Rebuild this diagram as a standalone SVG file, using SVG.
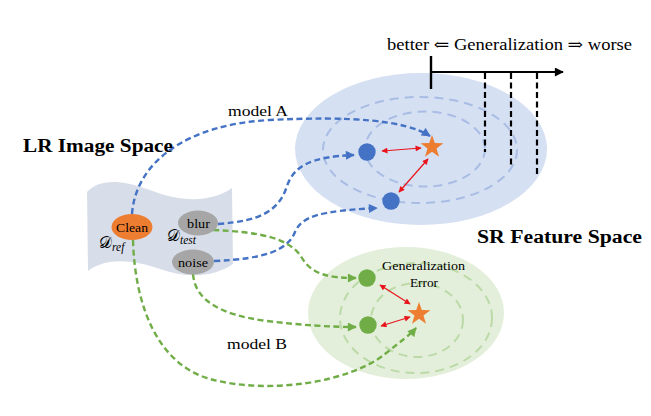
<svg xmlns="http://www.w3.org/2000/svg" xmlns:xlink="http://www.w3.org/1999/xlink" width="651" height="416" viewBox="0 0 651 416">
<style>
text{fill:#000;font-family:"Liberation Serif","DejaVu Serif",serif}
.b{font-weight:bold}
.blue{fill:none;stroke:#4472C4;stroke-width:2.4;stroke-dasharray:6 3.5}
.green{fill:none;stroke:#70AD47;stroke-width:2.4;stroke-dasharray:6 3.5}
.ringB{fill:none;stroke:#a9bde4;stroke-width:2;stroke-dasharray:9 6}
.ringG{fill:none;stroke:#bcdaa8;stroke-width:2;stroke-dasharray:9 6}
.red{fill:none;stroke:#e8141b;stroke-width:1.2}
.vd{fill:none;stroke:#000;stroke-width:2.2;stroke-dasharray:6 3.5}
</style>
<defs>
<marker id="aB" viewBox="0 0 10 10" refX="9" refY="5" markerUnits="userSpaceOnUse" markerWidth="10" markerHeight="9" orient="auto"><path d="M0,0 L10,5 L0,10 Z" fill="#4472C4"/></marker>
<marker id="aG" viewBox="0 0 10 10" refX="9" refY="5" markerUnits="userSpaceOnUse" markerWidth="10" markerHeight="9" orient="auto"><path d="M0,0 L10,5 L0,10 Z" fill="#70AD47"/></marker>
<marker id="aR" viewBox="0 0 10 10" refX="9" refY="5" markerUnits="userSpaceOnUse" markerWidth="7" markerHeight="6" orient="auto-start-reverse"><path d="M0,0 L10,5 L0,10 Z" fill="#e8141b"/></marker>
<marker id="aK" viewBox="0 0 10 10" refX="9" refY="5" markerUnits="userSpaceOnUse" markerWidth="11" markerHeight="9" orient="auto"><path d="M0,0 L10,5 L0,10 Z" fill="#000"/></marker>
<polygon id="star" points="0,-12 2.8,-3.9 11.4,-3.7 4.5,1.5 7,9.7 0,4.8 -7,9.7 -4.5,1.5 -11.4,-3.7 -2.8,-3.9" fill="#ED7D31"/>
</defs>

<g id="sr-space-blue">
<ellipse cx="421" cy="149" rx="126" ry="76" fill="#d6e0f3"/>
<ellipse cx="420" cy="150" rx="97" ry="53" class="ringB"/>
<ellipse cx="425" cy="149" rx="60" ry="37.5" class="ringB"/>
</g>
<g id="sr-space-green">
<ellipse cx="406" cy="313" rx="98" ry="66" fill="#e3efda"/>
<ellipse cx="416" cy="318" rx="76" ry="55" class="ringG"/>
<ellipse cx="417" cy="320" rx="46" ry="37" class="ringG"/>
</g>

<g id="axis">
<line x1="431" y1="56" x2="431" y2="89" stroke="#000" stroke-width="2.4"/>
<line x1="431" y1="72" x2="563" y2="72" stroke="#000" stroke-width="1.8" marker-end="url(#aK)"/>
<line x1="485" y1="73" x2="485" y2="152" class="vd"/>
<line x1="511" y1="73" x2="511" y2="165" class="vd"/>
<line x1="537" y1="73" x2="537" y2="177" class="vd"/>
<text x="387" y="50" font-size="16" textLength="245" lengthAdjust="spacingAndGlyphs">better ⇐ Generalization ⇒ worse</text>
</g>

<g id="lr-sheet">
<path d="M87,192 C98,180 118,178 150,190 C180,202 210,203 232,188 L233,264 C214,277 188,279 160,269 C130,259 106,258 88,271 Z" fill="#d8dee9"/>
</g>

<g id="connectors">
<path class="blue" d="M132,214 C136,160 190,124 270,120 C350,116 405,120 430,136" marker-end="url(#aB)"/>
<path class="blue" d="M218,224 C260,221 279,211 287,186 C294,166 310,157 354,155" marker-end="url(#aB)"/>
<path class="blue" d="M214,261 C265,259 288,250 295,232 C302,216 320,211 377,208" marker-end="url(#aB)"/>
<path class="green" d="M213,230 C260,232 290,238 302,258 C312,275 330,278 356,278" marker-end="url(#aG)"/>
<path class="green" d="M193,274 C195,300 220,315 267,321 C300,325 330,327 356,327" marker-end="url(#aG)"/>
<path class="green" d="M133,240 C135,310 160,365 210,379 C270,395 350,382 385,354 C400,342 411,334 416,328" marker-end="url(#aG)"/>
<line class="red" x1="382" y1="151" x2="421" y2="148" marker-start="url(#aR)" marker-end="url(#aR)"/>
<line class="red" x1="399" y1="192" x2="428" y2="159" marker-start="url(#aR)" marker-end="url(#aR)"/>
<line class="red" x1="380" y1="285" x2="410" y2="304" marker-start="url(#aR)" marker-end="url(#aR)"/>
<line class="red" x1="381" y1="326" x2="410" y2="317" marker-start="url(#aR)" marker-end="url(#aR)"/>
</g>

<g id="blue-dot-1"><circle cx="367" cy="152" r="8.7" fill="#4472C4"/></g>
<g id="blue-dot-2"><circle cx="391" cy="201" r="8.7" fill="#4472C4"/></g>
<g id="blue-star"><use xlink:href="#star" x="432" y="147"/></g>
<g id="green-dot-1"><circle cx="367" cy="278" r="8.7" fill="#70AD47"/></g>
<g id="green-dot-2"><circle cx="368" cy="325" r="8.7" fill="#70AD47"/></g>
<g id="green-star"><use xlink:href="#star" x="419" y="314"/></g>

<g id="clean">
<ellipse cx="132" cy="227" rx="20.5" ry="13" fill="#ED7D31"/>
<text x="116" y="231.5" font-size="12" textLength="32" lengthAdjust="spacingAndGlyphs">Clean</text>
</g>
<g id="blur">
<ellipse cx="198" cy="223" rx="20" ry="12.5" fill="#a6a6a6"/>
<text x="187" y="227.5" font-size="12.5" textLength="23" lengthAdjust="spacingAndGlyphs">blur</text>
</g>
<g id="noise">
<ellipse cx="193" cy="262" rx="21" ry="12.5" fill="#a6a6a6"/>
<text x="178" y="266.5" font-size="12.5" textLength="30" lengthAdjust="spacingAndGlyphs">noise</text>
</g>
<text x="99" y="248" font-size="16">𝒟<tspan font-size="11.5" font-style="italic" dy="3">ref</tspan></text>
<text x="167" y="241" font-size="16">𝒟<tspan font-size="11.5" font-style="italic" dy="3">test</tspan></text>

<text x="23" y="152" class="b" font-size="18" textLength="150" lengthAdjust="spacingAndGlyphs">LR Image Space</text>
<text x="477" y="243" class="b" font-size="18.5" textLength="165" lengthAdjust="spacingAndGlyphs">SR Feature Space</text>
<text x="228" y="116" font-size="15.5" textLength="60" lengthAdjust="spacingAndGlyphs">model A</text>
<text x="227" y="349" font-size="15.5" textLength="60" lengthAdjust="spacingAndGlyphs">model B</text>
<text x="382" y="270" font-size="11.5" textLength="83" lengthAdjust="spacingAndGlyphs">Generalization</text>
<text x="410" y="287" font-size="11.5" textLength="28" lengthAdjust="spacingAndGlyphs">Error</text>
</svg>
